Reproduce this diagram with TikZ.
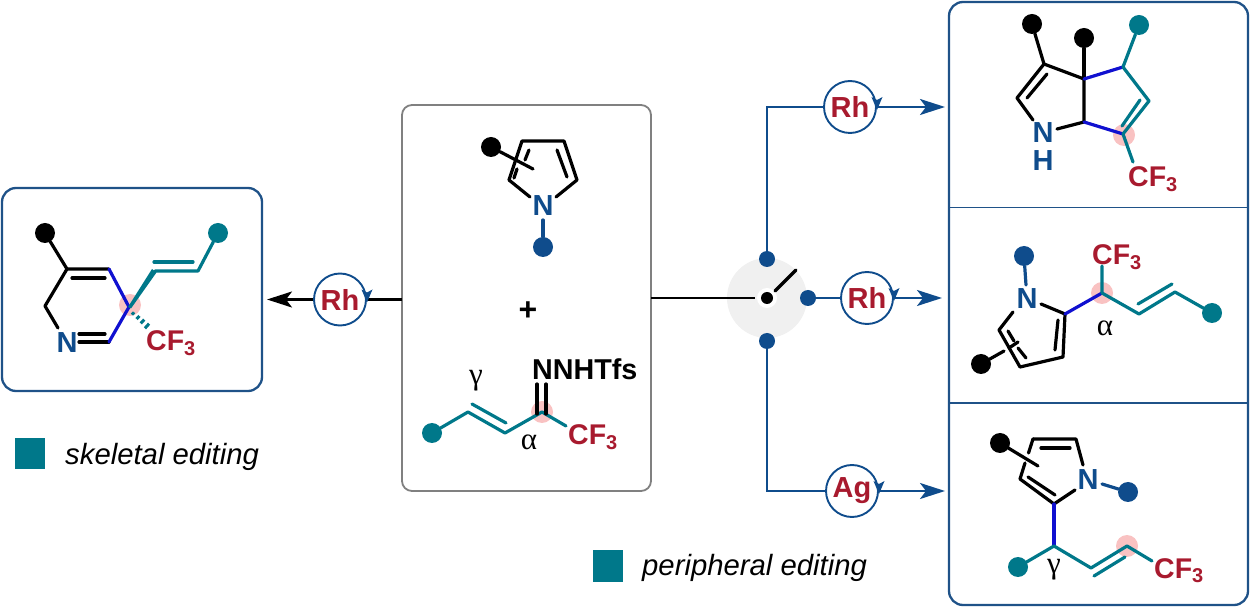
\documentclass[tikz,border=0pt]{standalone}
\usepackage{fontspec}
\setmainfont{Liberation Sans}
\newfontfamily\serifgreek{Liberation Serif}
\usetikzlibrary{arrows.meta,calc}
\definecolor{navy}{HTML}{0F4C8C}
\definecolor{frame}{HTML}{1F5288}
\definecolor{teal2}{HTML}{00788A}
\definecolor{crim}{HTML}{A81A2E}
\definecolor{bondblue}{HTML}{1010D0}
\definecolor{pinkc}{HTML}{F9C2C2}
\newcommand{\cfthree}{CF\raisebox{-5pt}{\fontsize{20}{20}\selectfont 3}}
\tikzset{
  bk/.style={draw=black,line width=3.2pt,line cap=round,line join=round},
  tl/.style={draw=teal2,line width=3.2pt,line cap=round,line join=round},
  bl/.style={draw=bondblue,line width=3.2pt,line cap=round,line join=round},
  nv/.style={draw=navy,line width=3.2pt,line cap=round},
  wire/.style={draw=navy,line width=2.3pt},
  bwire/.style={draw=black,line width=2.3pt},
  tip/.style={-{Stealth[length=25pt,width=16pt,inset=6pt]}},
  dotk/.style={circle,inner sep=0pt,minimum size=20pt,fill=black},
  dott/.style={circle,inner sep=0pt,minimum size=20pt,fill=teal2},
  dotn/.style={circle,inner sep=0pt,minimum size=20pt,fill=navy},
  swdot/.style={circle,inner sep=0pt,minimum size=16pt,fill=navy},
  pk/.style={circle,inner sep=0pt,minimum size=22pt,fill=pinkc},
  atomN/.style={text=navy,font=\bfseries\fontsize{29}{29}\selectfont,inner sep=0pt},
  cf/.style={text=crim,font=\bfseries\fontsize{28.5}{28.5}\selectfont,inner sep=0pt,anchor=base west},
  greek/.style={font=\serifgreek\fontsize{31}{31}\selectfont,inner sep=0pt},
  legend/.style={font=\itshape\fontsize{29.3}{29.3}\selectfont,inner sep=0pt,anchor=base west},
  legsq/.style={fill=teal2,inner sep=0pt,minimum width=30pt,minimum height=31pt},
  catal/.style={circle,draw=navy,line width=1.9pt,fill=white,minimum size=52pt,inner sep=0pt,text=crim,font=\bfseries\fontsize{29}{29}\selectfont},
  boxa/.style={draw=frame,line width=2.3pt,rounded corners=14pt},
  boxg/.style={draw=black!50,line width=1.8pt,rounded corners=10pt}
}
\newcommand{\catarrow}[1]{\fill[navy] ($(#1)+(21.5,-10)$) -- ($(#1)+(27,-7)$) -- ($(#1)+(32.5,-10)$) -- ($(#1)+(27,3)$) -- cycle;}
\begin{document}
\begin{tikzpicture}[x=1pt,y=-1pt]
\useasboundingbox (0,0) rectangle (1254,609);

% frames
\draw[boxa] (2,188) rectangle (262,391);
\draw[boxg] (402,105) rectangle (651,491);
\draw[boxa] (949,2) rectangle (1248,605);
\coordinate (d1l) at (949,207.5); \coordinate (d1r) at (1248,207.5);
\coordinate (d2l) at (949,403); \coordinate (d2r) at (1248,403);
\draw[draw=frame,line width=1.8pt] (d1l) -- (d1r);
\draw[draw=frame,line width=1.8pt] (d2l) -- (d2r);

% ---- left product
\node[pk] (lp) at (130,305) {};
\node[dotk] (la) at (45,233) {};
\node[dott] (lb) at (218,233) {};
\node[atomN,anchor=center] (lN) at (67,343) {N};
\coordinate (l1) at (67,269); \coordinate (l2) at (109,269);
\coordinate (l3) at (129,307); \coordinate (l4) at (109,342);
\coordinate (l5) at (45,306); \coordinate (l6) at (154,271);
\coordinate (l7) at (198,271);
\draw[bk] (la) -- (l1);
\draw[bk] (l5) -- (l1) -- (l2);
\draw[bk] (72,278) -- (105,278);
\draw[bk] (l5) -- (58,328);
\draw[bk] (l4) -- (79,342);
\draw[bk] (79,334) -- (105,334);
\draw[bl] (l2) -- (l3) -- (l4);
\fill[teal2] (128,307) -- (152,269) -- (156.5,272.5) -- (131,308.5) -- cycle;
\draw[tl] (155,271) -- (l7) -- (lb);
\draw[tl] (154,262) -- (193,262);
\foreach \px/\py/\h in {133/313.5/1.6,138/317.5/2.1,142.5/321.5/2.6,147/326/3.1}
  \draw[draw=teal2,line width=3pt] (\px-0.67*\h,\py+0.74*\h) -- (\px+0.67*\h,\py-0.74*\h);
\node[cf] (lcf) at (146,351) {\cfthree};

% legends
\node[legsq] (s1) at (30,453.5) {};
\node[legend] (s1t) at (65,465) {skeletal editing};
\node[legsq] (s2) at (608,566) {};
\node[legend] (s2t) at (642,576) {peripheral editing};

% ---- centre box
\node[dotk] (ca) at (491,147) {};
\node[dotn] (cb) at (543,247) {};
\node[atomN,anchor=center] (cN) at (543,206) {N};
\coordinate (c1) at (522,141); \coordinate (c2) at (564,141);
\coordinate (c3) at (577,180); \coordinate (c4) at (509,180);
\draw[bk] (c4) -- (c1) -- (c2) -- (c3) -- (556,197);
\draw[bk] (c4) -- (530,197);
\draw[bk] (557,150) -- (567,177);
\draw[bk] (529,150) -- (525,160);
\draw[bk] (517,169) -- (514,178);
\draw[bk] (ca) -- (533,169);
\draw[nv] (543,220) -- (cb);
\node[font=\bfseries\fontsize{32}{32}\selectfont,inner sep=0pt] (plus) at (528,311) {+};
\node[pk] (cp) at (542,412) {};
\node[dott] (cc) at (432,433) {};
\coordinate (c5) at (468,412); \coordinate (c6) at (505,433);
\coordinate (c7) at (542,412); \coordinate (c8) at (566,426);
\draw[tl] (cc) -- (c5) -- (c6) -- (c7) -- (c8);
\draw[tl] (472,404) -- (506,423);
\draw[bk] (537,384) -- (537,414);
\draw[bk] (546,384) -- (546,414);
\node[inner sep=0pt,anchor=base west,font=\bfseries\fontsize{28.7}{28.7}\selectfont] (tfs) at (532,380) {NNHTfs};
\node[cf] (ccf) at (568,445) {\cfthree};
\node[greek] (cg) at (476,381) {γ};
\node[greek] (cal) at (529,442) {α};

% ---- switch
\node[circle,fill=black!6,inner sep=0pt,minimum size=80pt] (disc) at (767,298) {};
\node[circle,fill=white,inner sep=0pt,minimum size=20pt] (halo) at (767,298) {};
\node[circle,fill=black,inner sep=0pt,minimum size=12pt] (pivot) at (767,298) {};
\node[swdot] (su) at (767,259) {};
\node[swdot] (sd) at (767,341) {};
\node[swdot] (sr) at (808,298) {};
\coordinate (boxR) at (651,298); \coordinate (boxL) at (402,299.5);
\coordinate (wl) at (755,298);
\draw[bwire] (boxR) -- (wl);
\coordinate (lev1) at (775,291); \coordinate (lev2) at (796,270);
\draw[bk] (lev1) -- (lev2);

% ---- catalysts and connectors
\coordinate (t1) at (945,107); \coordinate (t2) at (942,298); \coordinate (t3) at (945,491);
\coordinate (t0) at (267,299.5);
\node[catal] (r0) at (340,299.5) {Rh};
\node[catal] (r1) at (850,107) {Rh};
\node[catal] (r2) at (867,298) {Rh};
\node[catal] (r3) at (852,491) {Ag};
\draw[bwire] (boxL) -- (r0.east);
\draw[bwire,tip] (r0.west) -- (t0);
\draw[wire] (su) |- (r1.west);
\draw[wire,tip] (r1.east) -- (t1);
\draw[wire] (sr) -- (r2.west);
\draw[wire,tip] (r2.east) -- (t2);
\draw[wire] (sd) |- (r3.west);
\draw[wire,tip] (r3.east) -- (t3);
\catarrow{r0}\catarrow{r1}\catarrow{r2}\catarrow{r3}

% ---- product 1
\node[pk] (p1p) at (1124,135) {};
\node[dotk] (p1a) at (1032,24) {};
\node[dotk] (p1b) at (1084,38) {};
\node[dott] (p1c) at (1139,25) {};
\node[atomN,anchor=center] (p1N) at (1043,133) {N};
\node[atomN,anchor=center] (p1H) at (1043,161) {H};
\coordinate (a1) at (1044,64); \coordinate (a2) at (1084,79);
\coordinate (a3) at (1123,67); \coordinate (a4) at (1149,101);
\coordinate (a5) at (1123,134); \coordinate (a6) at (1084,122);
\coordinate (a7) at (1017,98);
\draw[bk] (p1a) -- (a1) -- (a2) -- (a6) -- (1057,129);
\draw[bk] (p1b) -- (a2);
\draw[bk] (a1) -- (a7) -- (1033,120);
\draw[bk] (1047,74) -- (1027,98);
\draw[bl] (a2) -- (a3);
\draw[bl] (a6) -- (a5);
\draw[tl] (p1c) -- (a3) -- (a4) -- (a5) -- (1133,162);
\draw[tl] (1140,100) -- (1122,126);
\node[cf] (p1cf) at (1128,187) {\cfthree};

% ---- product 2
\node[pk] (p2p) at (1102,293) {};
\node[dotn] (p2a) at (1024,256) {};
\node[dotk] (p2b) at (981,364) {};
\node[dott] (p2c) at (1212,313) {};
\node[atomN,anchor=center] (p2N) at (1027,299) {N};
\coordinate (b1) at (999,330); \coordinate (b2) at (1020,367);
\coordinate (b3) at (1063,357); \coordinate (b4) at (1065,314);
\coordinate (b5) at (1102,293); \coordinate (b6) at (1139,314);
\coordinate (b7) at (1175,292);
\draw[nv] (p2a) -- (1026,285);
\draw[bk] (1013,312) -- (b1) -- (b2) -- (b3) -- (b4) -- (1041,304);
\draw[bk] (1058,320) -- (1055,350);
\draw[bk] (1008,331) -- (1014,341);
\draw[bk] (1018,348) -- (1026,358);
\draw[bk] (p2b) -- (1004,351);
\draw[bk] (1009,348) -- (1018,342);
\draw[bl] (b4) -- (b5);
\draw[tl] (1102,266) -- (b5) -- (b6) -- (b7) -- (p2c);
\draw[tl] (1138,304) -- (1172,284);
\node[cf] (p2cf) at (1092,265) {\cfthree};
\node[greek] (p2al) at (1105,328) {α};

% ---- product 3
\node[pk] (p3p) at (1127,546) {};
\node[dotk] (p3a) at (1000,443) {};
\node[dotn] (p3b) at (1128,492) {};
\node[dott] (p3c) at (1018,567) {};
\node[atomN,anchor=center] (p3N) at (1088,480) {N};
\coordinate (e1) at (1033,439); \coordinate (e2) at (1076,439);
\coordinate (e3) at (1054,504); \coordinate (e4) at (1020,479);
\coordinate (e5) at (1054,546); \coordinate (e6) at (1091,568);
\coordinate (e7) at (1127,546);
\draw[bk] (p3a) -- (1038,466);
\draw[bk] (e1) -- (1028.5,453);
\draw[bk] (1025,463) -- (e4) -- (e3) -- (1075,490);
\draw[bk] (e1) -- (e2) -- (1083,465);
\draw[bk] (1041,448) -- (1070,448);
\draw[bk] (1055,495) -- (1028,477);
\draw[nv] (1102,484) -- (p3b);
\draw[bl] (e3) -- (e5);
\draw[tl] (p3c) -- (e5) -- (e6) -- (e7) -- (1152,561);
\draw[tl] (1094,576) -- (1125,557);
\node[cf] (p3cf) at (1154,578) {\cfthree};
\node[greek] (p3g) at (1054,570) {γ};
\end{tikzpicture}
\end{document}
